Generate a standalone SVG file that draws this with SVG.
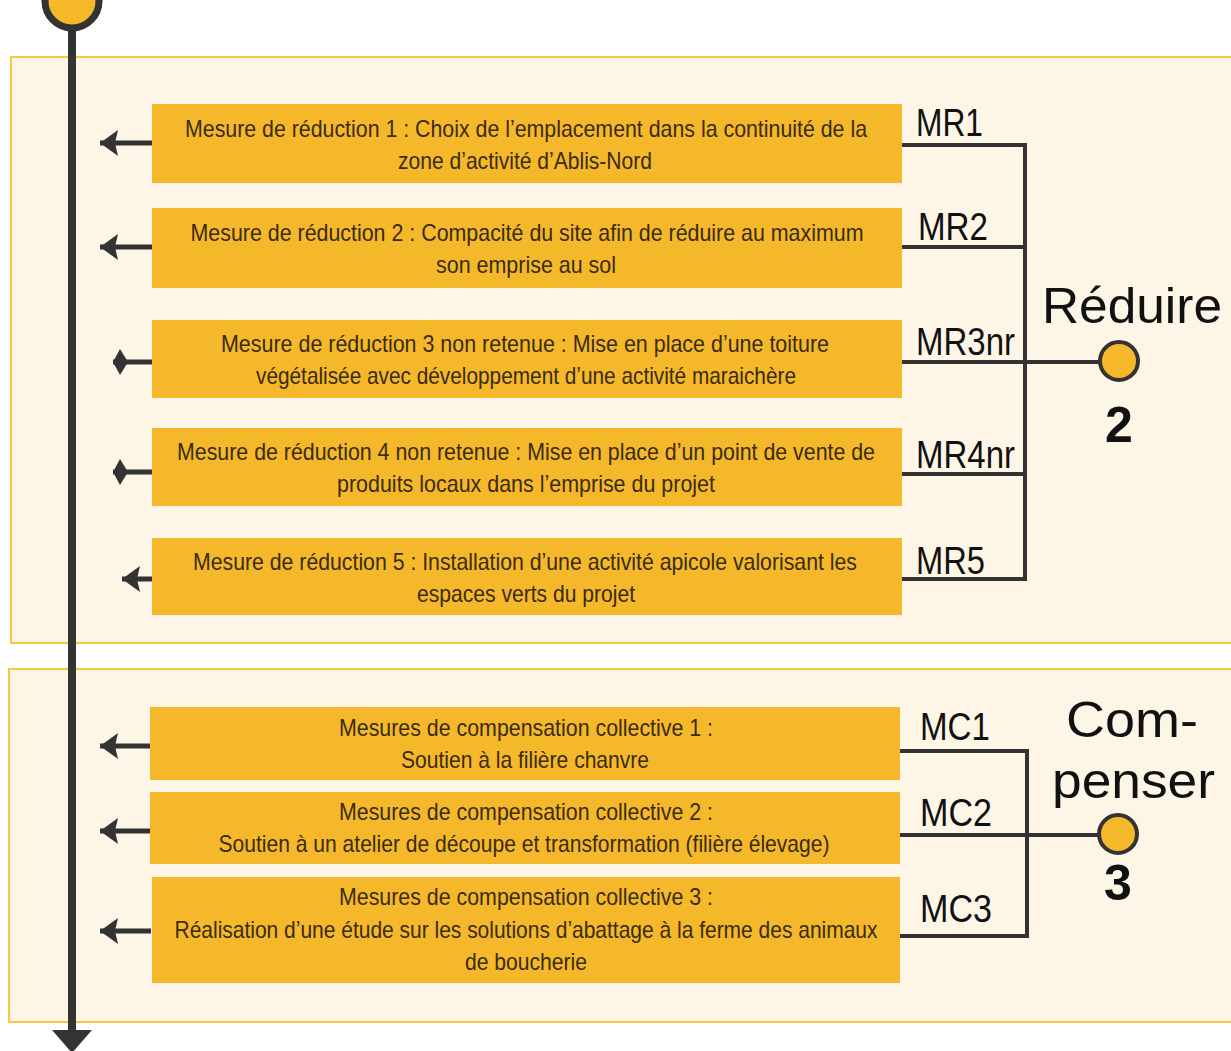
<svg xmlns="http://www.w3.org/2000/svg" width="1231" height="1051" viewBox="0 0 1231 1051">
<defs>
<style>
.panel{fill:#FDF5E6;stroke:#F8C93E;stroke-width:2}
.box{fill:#F5B82B}
.bt{font-family:"Liberation Sans",Arial,sans-serif;font-size:24px;fill:#3a2c0c;text-anchor:middle}
.lab{font-family:"Liberation Sans",Arial,sans-serif;font-size:39px;fill:#111}
.big{font-family:"Liberation Sans",Arial,sans-serif;font-size:50px;fill:#111}
.num{font-family:"Liberation Sans",Arial,sans-serif;font-size:50px;font-weight:bold;fill:#111;text-anchor:middle}
.ln{fill:none;stroke:#333;stroke-width:4}
.arr{fill:none;stroke:#333;stroke-width:5}
.dot{fill:#F5B82B;stroke:#333;stroke-width:4}
</style>
<marker id="tri" markerUnits="userSpaceOnUse" markerWidth="20" markerHeight="28" viewBox="0 -14 20 28" refX="18" refY="0" orient="auto">
<path d="M0,-13 L18,0 L0,13 L3,0 Z" fill="#333"/>
</marker>
<marker id="dia" markerUnits="userSpaceOnUse" markerWidth="16" markerHeight="28" viewBox="0 -14 16 28" refX="15" refY="0" orient="auto">
<path d="M0,0 L8,-13 L15,0 L8,13 Z" fill="#333"/>
</marker>
</defs>

<g id="panel-reduire"><rect class="panel" x="11" y="57" width="1230" height="586"/></g>
<g id="panel-compenser"><rect class="panel" x="9" y="669" width="1232" height="353"/></g>

<g id="timeline">
<line x1="72" y1="30" x2="72" y2="1032" stroke="#333" stroke-width="8"/>
<polygon points="52,1030 92,1030 72,1053" fill="#333"/>
<circle cx="72" cy="1" r="27" fill="#F5B82B" stroke="#333" stroke-width="7"/>
</g>

<g id="connectors">
<line class="arr" x1="153" y1="143" x2="100" y2="143" marker-end="url(#tri)"/>
<line class="arr" x1="153" y1="247" x2="100" y2="247" marker-end="url(#tri)"/>
<line class="arr" x1="153" y1="362" x2="113" y2="362" marker-end="url(#dia)"/>
<line class="arr" x1="153" y1="472" x2="113" y2="472" marker-end="url(#dia)"/>
<line class="arr" x1="153" y1="579" x2="122" y2="579" marker-end="url(#tri)"/>
<line class="arr" x1="151" y1="746" x2="100" y2="746" marker-end="url(#tri)"/>
<line class="arr" x1="151" y1="831" x2="100" y2="831" marker-end="url(#tri)"/>
<line class="arr" x1="151" y1="931" x2="100" y2="931" marker-end="url(#tri)"/>
<path class="ln" d="M902,145 H1025 V579 H902 M902,247 H1025 M902,362 H1100 M902,474 H1025"/>
<path class="ln" d="M900,751 H1027 V936 H900 M900,835 H1099"/>
</g>

<g id="mr1"><rect class="box" x="152" y="104" width="750" height="79"/>
<text class="bt" x="526" y="137" textLength="682" lengthAdjust="spacingAndGlyphs">Mesure de réduction 1 : Choix de l’emplacement dans la continuité de la</text>
<text class="bt" x="525" y="169" textLength="254" lengthAdjust="spacingAndGlyphs">zone d’activité d’Ablis-Nord</text>
<text class="lab" x="916" y="136" textLength="67" lengthAdjust="spacingAndGlyphs">MR1</text></g>

<g id="mr2"><rect class="box" x="152" y="208" width="750" height="80"/>
<text class="bt" x="527" y="241" textLength="673" lengthAdjust="spacingAndGlyphs">Mesure de réduction 2 : Compacité du site afin de réduire au maximum</text>
<text class="bt" x="526" y="273" textLength="180" lengthAdjust="spacingAndGlyphs">son emprise au sol</text>
<text class="lab" x="918" y="240" textLength="70" lengthAdjust="spacingAndGlyphs">MR2</text></g>

<g id="mr3"><rect class="box" x="152" y="320" width="750" height="78"/>
<text class="bt" x="525" y="352" textLength="608" lengthAdjust="spacingAndGlyphs">Mesure de réduction 3 non retenue : Mise en place d’une toiture</text>
<text class="bt" x="526" y="384" textLength="540" lengthAdjust="spacingAndGlyphs">végétalisée avec développement d’une activité maraichère</text>
<text class="lab" x="916" y="355" textLength="99" lengthAdjust="spacingAndGlyphs">MR3nr</text></g>

<g id="mr4"><rect class="box" x="152" y="428" width="750" height="78"/>
<text class="bt" x="526" y="460" textLength="698" lengthAdjust="spacingAndGlyphs">Mesure de réduction 4 non retenue : Mise en place d’un point de vente de</text>
<text class="bt" x="526" y="492" textLength="378" lengthAdjust="spacingAndGlyphs">produits locaux dans l’emprise du projet</text>
<text class="lab" x="916" y="468" textLength="99" lengthAdjust="spacingAndGlyphs">MR4nr</text></g>

<g id="mr5"><rect class="box" x="152" y="538" width="750" height="77"/>
<text class="bt" x="525" y="570" textLength="664" lengthAdjust="spacingAndGlyphs">Mesure de réduction 5 : Installation d’une activité apicole valorisant les</text>
<text class="bt" x="526" y="602" textLength="218" lengthAdjust="spacingAndGlyphs">espaces verts du projet</text>
<text class="lab" x="916" y="574" textLength="69" lengthAdjust="spacingAndGlyphs">MR5</text></g>

<g id="reduire">
<circle class="dot" cx="1119" cy="361" r="19"/>
<text class="big" x="1042" y="323" textLength="180" lengthAdjust="spacingAndGlyphs">Réduire</text>
<text class="num" x="1119" y="442">2</text>
</g>

<g id="mc1"><rect class="box" x="150" y="707" width="750" height="73"/>
<text class="bt" x="526" y="736" textLength="374" lengthAdjust="spacingAndGlyphs">Mesures de compensation collective 1 :</text>
<text class="bt" x="525" y="768" textLength="248" lengthAdjust="spacingAndGlyphs">Soutien à la filière chanvre</text>
<text class="lab" x="920" y="740" textLength="70" lengthAdjust="spacingAndGlyphs">MC1</text></g>

<g id="mc2"><rect class="box" x="150" y="792" width="750" height="72"/>
<text class="bt" x="526" y="820" textLength="374" lengthAdjust="spacingAndGlyphs">Mesures de compensation collective 2 :</text>
<text class="bt" x="524" y="852" textLength="611" lengthAdjust="spacingAndGlyphs">Soutien à un atelier de découpe et transformation (filière élevage)</text>
<text class="lab" x="920" y="826" textLength="72" lengthAdjust="spacingAndGlyphs">MC2</text></g>

<g id="mc3"><rect class="box" x="152" y="877" width="748" height="106"/>
<text class="bt" x="526" y="905" textLength="374" lengthAdjust="spacingAndGlyphs">Mesures de compensation collective 3 :</text>
<text class="bt" x="526" y="938" textLength="703" lengthAdjust="spacingAndGlyphs">Réalisation d’une étude sur les solutions d’abattage à la ferme des animaux</text>
<text class="bt" x="526" y="970" textLength="122" lengthAdjust="spacingAndGlyphs">de boucherie</text>
<text class="lab" x="920" y="922" textLength="72" lengthAdjust="spacingAndGlyphs">MC3</text></g>

<g id="compenser">
<circle class="dot" cx="1118" cy="834" r="19"/>
<text class="big" x="1066" y="737" textLength="132" lengthAdjust="spacingAndGlyphs">Com-</text>
<text class="big" x="1052" y="798" textLength="163" lengthAdjust="spacingAndGlyphs">penser</text>
<text class="num" x="1118" y="900">3</text>
</g>
</svg>
